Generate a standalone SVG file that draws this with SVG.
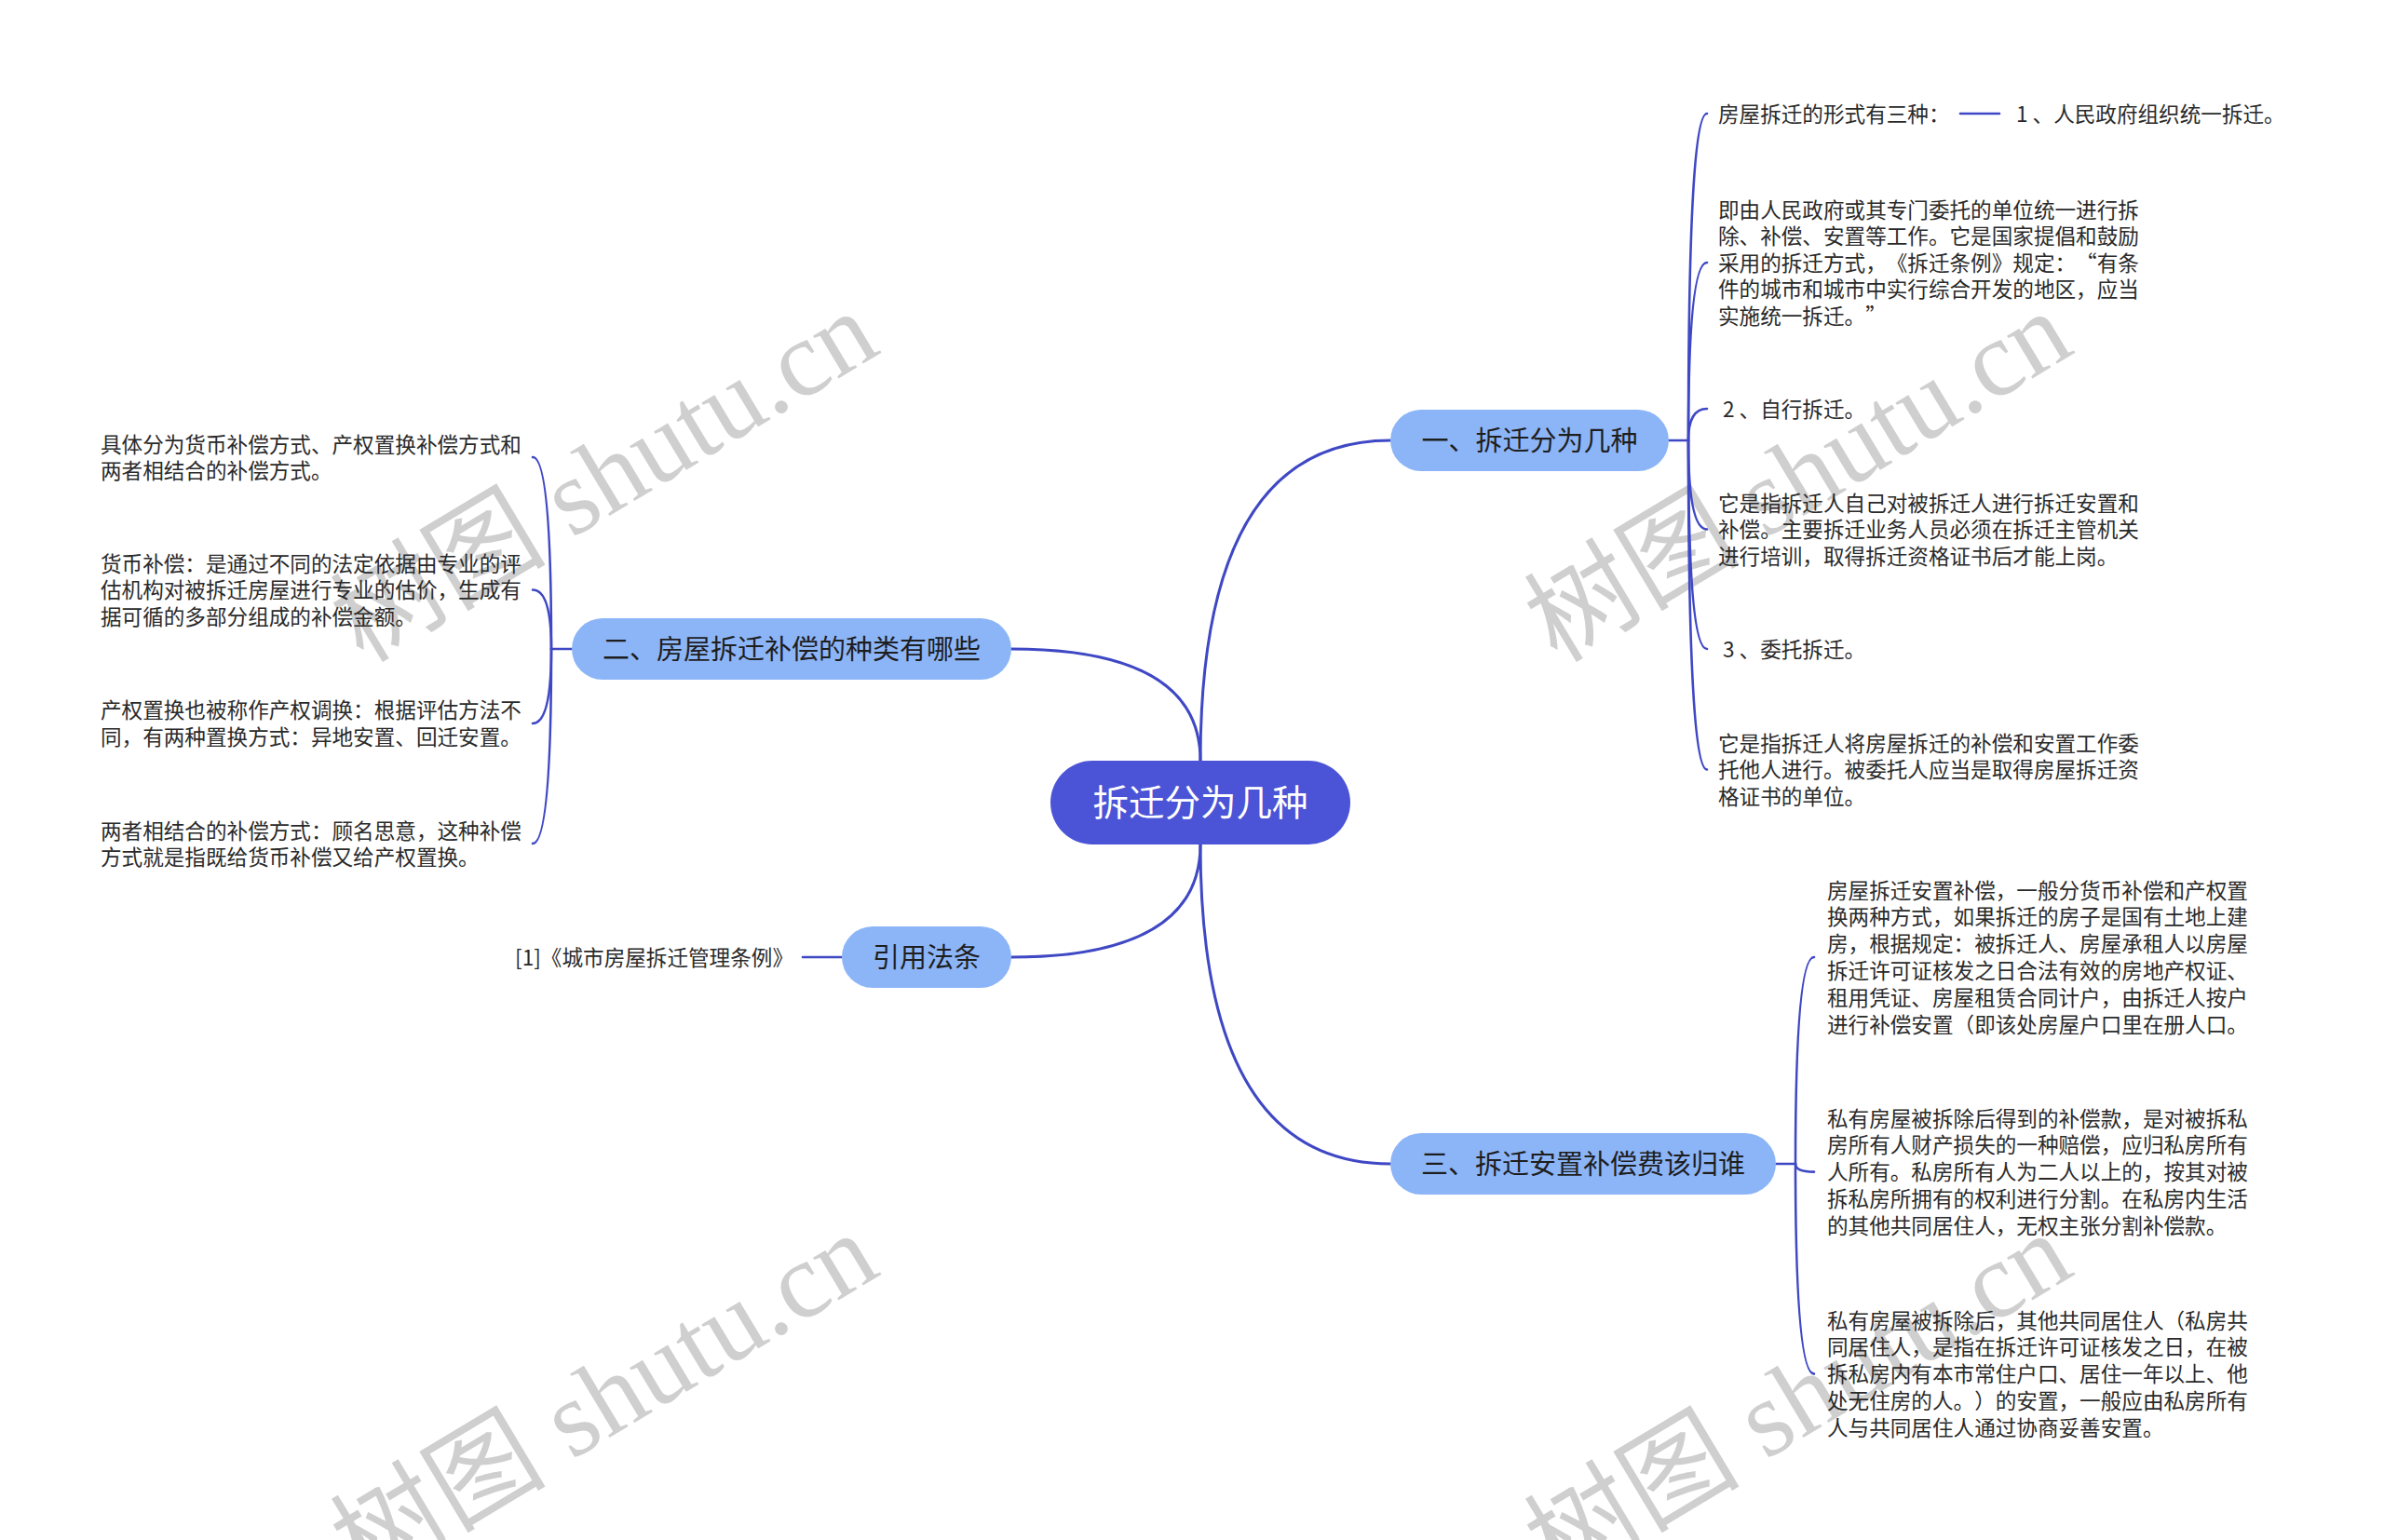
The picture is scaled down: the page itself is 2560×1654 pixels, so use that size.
<svg xmlns="http://www.w3.org/2000/svg" width="2560" height="1654" viewBox="0 0 2560 1654">
<style>
text{text-spacing-trim:space-all}
.wm{font-family:"Liberation Serif","Noto Sans CJK SC",serif;font-size:116px;fill:#cfcfcf}
.main{fill:none;stroke:#3f48c4;stroke-width:3;stroke-linecap:round}
.sub{fill:none;stroke:#3f48c4;stroke-width:2.6;stroke-linecap:round}
.root{fill:#4b54d6}
.br{fill:#8cb5f8}
.rt{font-family:"Noto Sans CJK SC","Noto Sans",sans-serif;font-size:38.5px;fill:#ffffff;text-anchor:middle}
.bt{font-family:"Noto Sans CJK SC","Noto Sans",sans-serif;font-size:29px;fill:#1e1e1e;text-anchor:middle}
.ct{font-family:"Noto Sans CJK SC","Noto Sans",sans-serif;font-size:22.6px;fill:#2a2a2a}
</style>
<rect width="2560" height="1654" fill="#ffffff"/>
<g id="watermarks">
<text class="wm" transform="translate(390,713) rotate(-31)">树图 shutu.cn</text>
<text class="wm" transform="translate(1672,713) rotate(-31)">树图 shutu.cn</text>
<text class="wm" transform="translate(390,1703) rotate(-31)">树图 shutu.cn</text>
<text class="wm" transform="translate(1672,1703) rotate(-31)">树图 shutu.cn</text>
</g>
<g id="connectors">
<path class="main" d="M1289,817 Q1289,473 1493,473"/>
<path class="main" d="M1289,817 Q1289,697 1086,697"/>
<path class="main" d="M1289,907 Q1289,1028 1086,1028"/>
<path class="main" d="M1289,907 Q1289,1250 1493,1250"/>
<path class="sub" d="M1792,473 L1813,473"/>
<path class="sub" d="M1813,473 Q1813,122 1833,122"/>
<path class="sub" d="M1813,473 Q1813,282 1833,282"/>
<path class="sub" d="M1813,473 Q1813,439 1833,439"/>
<path class="sub" d="M1813,473 Q1813,568.5 1833,568.5"/>
<path class="sub" d="M1813,473 Q1813,697 1833,697"/>
<path class="sub" d="M1813,473 Q1813,826.5 1833,826.5"/>
<path class="sub" d="M2105,122 L2147,122"/>
<path class="sub" d="M614,697 L592,697"/>
<path class="sub" d="M592,697 Q592,491 572,491"/>
<path class="sub" d="M592,697 Q592,633.5 572,633.5"/>
<path class="sub" d="M592,697 Q592,777 572,777"/>
<path class="sub" d="M592,697 Q592,906 572,906"/>
<path class="sub" d="M904,1028 L862,1028"/>
<path class="sub" d="M1907,1250 L1928,1250"/>
<path class="sub" d="M1928,1250 Q1928,1028 1948,1028"/>
<path class="sub" d="M1928,1250 Q1928,1258.6 1948,1258.6"/>
<path class="sub" d="M1928,1250 Q1928,1475.6 1948,1475.6"/>
</g>
<g id="root">
<rect class="root" x="1128" y="817" width="322" height="90" rx="45"/>
<text class="rt" x="1289" y="876">拆迁分为几种</text>
</g>
<g id="b1">
<rect class="br" x="1493" y="440" width="299" height="66" rx="33"/>
<text class="bt" x="1642.5" y="483.5">一、拆迁分为几种</text>
</g>
<g id="b2">
<rect class="br" x="614" y="664" width="472" height="66" rx="33"/>
<text class="bt" x="850" y="707.5">二、房屋拆迁补偿的种类有哪些</text>
</g>
<g id="b3">
<rect class="br" x="1493" y="1217" width="414" height="66" rx="33"/>
<text class="bt" x="1700" y="1260.5">三、拆迁安置补偿费该归谁</text>
</g>
<g id="b4">
<rect class="br" x="904" y="995" width="182" height="66" rx="33"/>
<text class="bt" x="995" y="1038.5">引用法条</text>
</g>
<g id="b1-children" class="ct">
<g id="b1c1"><text x="1845" y="130.5">房屋拆迁的形式有三种：</text></g>
<g id="b1c1a"><text x="2165" y="130.5">1<tspan dx="5">、人民政府组织统一拆迁。</tspan></text></g>
<g id="b1c2"><text x="1845" y="233.5">即由人民政府或其专门委托的单位统一进行拆</text><text x="1845" y="262">除、补偿、安置等工作。它是国家提倡和鼓励</text><text x="1845" y="290.5">采用的拆迁方式，《拆迁条例》规定：“有条</text><text x="1845" y="319">件的城市和城市中实行综合开发的地区，应当</text><text x="1845" y="347.5">实施统一拆迁。”</text></g>
<g id="b1c3"><text x="1850" y="447.5">2<tspan dx="5">、自行拆迁。</tspan></text></g>
<g id="b1c4"><text x="1845" y="548.5">它是指拆迁人自己对被拆迁人进行拆迁安置和</text><text x="1845" y="577">补偿。主要拆迁业务人员必须在拆迁主管机关</text><text x="1845" y="605.5">进行培训，取得拆迁资格证书后才能上岗。</text></g>
<g id="b1c5"><text x="1850" y="705.5">3<tspan dx="5">、委托拆迁。</tspan></text></g>
<g id="b1c6"><text x="1845" y="806.5">它是指拆迁人将房屋拆迁的补偿和安置工作委</text><text x="1845" y="835">托他人进行。被委托人应当是取得房屋拆迁资</text><text x="1845" y="863.5">格证书的单位。</text></g>
</g>
<g id="b2-children" class="ct">
<g id="b2c1"><text x="108" y="485.5">具体分为货币补偿方式、产权置换补偿方式和</text><text x="108" y="514">两者相结合的补偿方式。</text></g>
<g id="b2c2"><text x="108" y="613.5">货币补偿：是通过不同的法定依据由专业的评</text><text x="108" y="642">估机构对被拆迁房屋进行专业的估价，生成有</text><text x="108" y="670.5">据可循的多部分组成的补偿金额。</text></g>
<g id="b2c3"><text x="108" y="771">产权置换也被称作产权调换：根据评估方法不</text><text x="108" y="799.5">同，有两种置换方式：异地安置、回迁安置。</text></g>
<g id="b2c4"><text x="108" y="900.5">两者相结合的补偿方式：顾名思意，这种补偿</text><text x="108" y="929">方式就是指既给货币补偿又给产权置换。</text></g>
</g>
<g id="b4-children" class="ct">
<g id="b4c1"><text x="852" y="1036.5" text-anchor="end">[1]《城市房屋拆迁管理条例》</text></g>
</g>
<g id="b3-children" class="ct">
<g id="b3c1"><text x="1962" y="964.5">房屋拆迁安置补偿，一般分货币补偿和产权置</text><text x="1962" y="993.3">换两种方式，如果拆迁的房子是国有土地上建</text><text x="1962" y="1022.1">房，根据规定：被拆迁人、房屋承租人以房屋</text><text x="1962" y="1050.9">拆迁许可证核发之日合法有效的房地产权证、</text><text x="1962" y="1079.7">租用凭证、房屋租赁合同计户，由拆迁人按户</text><text x="1962" y="1108.5">进行补偿安置（即该处房屋户口里在册人口。</text></g>
<g id="b3c2"><text x="1962" y="1209.5">私有房屋被拆除后得到的补偿款，是对被拆私</text><text x="1962" y="1238.3">房所有人财产损失的一种赔偿，应归私房所有</text><text x="1962" y="1267.1">人所有。私房所有人为二人以上的，按其对被</text><text x="1962" y="1295.9">拆私房所拥有的权利进行分割。在私房内生活</text><text x="1962" y="1324.7">的其他共同居住人，无权主张分割补偿款。</text></g>
<g id="b3c3"><text x="1962" y="1426.5">私有房屋被拆除后，其他共同居住人（私房共</text><text x="1962" y="1455.3">同居住人，是指在拆迁许可证核发之日，在被</text><text x="1962" y="1484.1">拆私房内有本市常住户口、居住一年以上、他</text><text x="1962" y="1512.9">处无住房的人。）的安置，一般应由私房所有</text><text x="1962" y="1541.7">人与共同居住人通过协商妥善安置。</text></g>
</g>
</svg>
